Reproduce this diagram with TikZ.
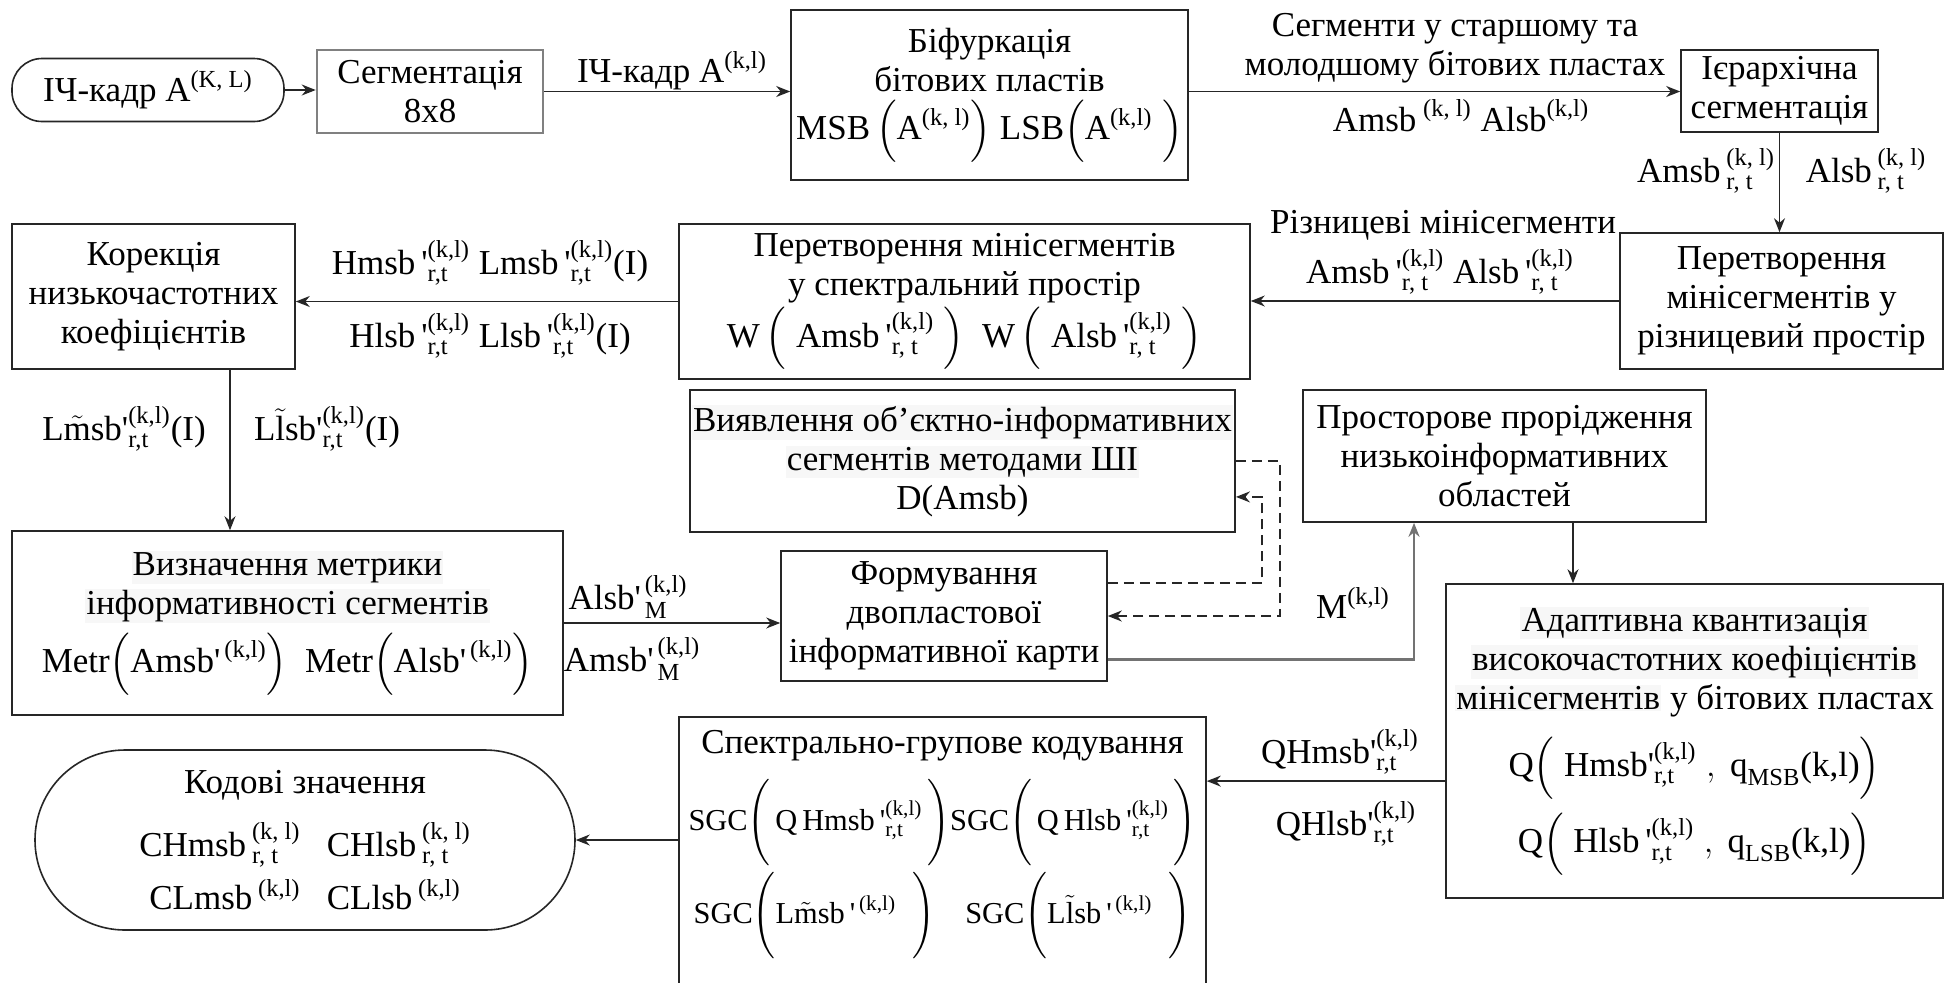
\documentclass[tikz,border=0pt]{standalone}
\usepackage{fontspec}
\setmainfont{Liberation Serif}
\usepackage{amsmath}
\usetikzlibrary{arrows.meta,calc}
\newcommand{\rt}[1]{\text{#1}}
\newcommand{\apos}{\textquotesingle}
\newcommand{\tallst}{\vrule height 20pt depth 18pt width 0pt}
\newcommand{\hlt}[1]{{\setlength{\fboxsep}{0.6pt}\colorbox{black!3}{#1}}}
\begin{document}
\begin{tikzpicture}[x=0.5pt,y=-0.5pt,
  font=\fontsize{17.5}{19.5}\selectfont,
  box/.style={draw=black!85, line width=0.8pt, align=center, inner sep=1pt},
  arr/.style={-{Stealth[length=7pt,width=5.5pt]}, line width=0.7pt, draw=black!85},
  dsh/.style={arr, dash pattern=on 5pt off 3pt, line width=0.9pt},
  lbl/.style={align=center, inner sep=0pt}]
\fill[white] (0,0) rectangle (1950,982);
\useasboundingbox (0,0) rectangle (1950,982);

% ---------- boxes ----------
\node[box, rounded corners=15pt, minimum width=136pt, minimum height=31.5pt] (start) at (148,90)
  {ІЧ-кадр $\rt{A}^{\rt{(K, L)}}$};
\node[box, draw=black!50, line width=1.3pt, minimum width=113pt, minimum height=41.5pt] (seg) at (430,91.5)
  {Сегментація\\8x8};
\node[box, minimum width=198.5pt, minimum height=85pt] (bif) at (989.5,95)
  {Біфуркація\\бітових пластів\\[3pt]MSB\,$\Bigl(\rt{A}^{\rt{(k, l)}}\Bigr)$ LSB$\Bigl(\rt{A}^{\rt{(k,l)}}\;\Bigr)$};
\node[box, minimum width=98.5pt, minimum height=41pt] (hier) at (1779.5,91)
  {Ієрархічна\\сегментація};
\node[box, minimum width=161.5pt, minimum height=68pt] (rizn) at (1781.5,301)
  {Перетворення\\мінісегментів у\\різницевий простір};
\node[box, minimum width=285.5pt, minimum height=77.5pt] (spec) at (964.5,301.5)
  {Перетворення мінісегментів\\у спектральний простір\\[1pt]
   W\,$\Bigl(\;\rt{Amsb\,\apos}^{\rt{(k,l)}}_{\rt{r, t}}\;\Bigr)$\ \ W\,$\Bigl(\;\rt{Alsb\,\apos}^{\rt{(k,l)}}_{\rt{r, t}}\;\Bigr)$};
\node[box, minimum width=141.5pt, minimum height=72.5pt] (kor) at (153.5,296.5)
  {Корекція\\низькочастотних\\коефіцієнтів};
\node[box, minimum width=268.5pt, minimum height=71pt] (vyyav) at (962.5,461)
  {\hlt{Виявлення об'єктно-інформативних}\\\hlt{сегментів методами ШІ}\\D(Amsb)};
\node[box, minimum width=201.5pt, minimum height=66pt] (prost) at (1504.5,456)
  {Просторове прорідження\\низькоінформативних\\областей};
\node[box, minimum width=275.5pt, minimum height=92pt] (vyzn) at (287.5,623)
  {\hlt{Визначення метрики}\\\hlt{інформативності сегментів}\\[4pt]
   Metr$\Bigl(\rt{Amsb\apos}^{\,\rt{(k,l)}}\Bigr)$\ \ Metr$\Bigl(\rt{Alsb\apos}^{\,\rt{(k,l)}}\Bigr)$};
\node[box, minimum width=163pt, minimum height=65pt] (form) at (944,616)
  {Формування\\двопластової\\інформативної карти};
\node[box, minimum width=248.5pt, minimum height=157pt] (adapt) at (1694.5,741)
  {\hlt{Адаптивна квантизація}\\\hlt{високочастотних коефіцієнтів}\\\hlt{мінісегментів} у бітових пластах\\[9pt]
   Q$\Bigl(\;\rt{Hmsb\apos}^{\rt{(k,l)}}_{\rt{r,t}}\;,\ \rt{q}_{\rt{MSB}}\rt{(k,l)}\Bigr)$\\[6pt]
   Q$\Bigl(\;\rt{Hlsb\,\apos}^{\rt{(k,l)}}_{\rt{r,t}}\;,\ \rt{q}_{\rt{LSB}}\rt{(k,l)}\Bigr)$};
\node[box, minimum width=263.5pt, minimum height=140pt] (sgc) at (942.5,857) {};
\node[lbl] (sgct) at (942.5,746) {Спектрально-групове кодування};
\node[lbl, font=\fontsize{15.2}{18}\selectfont] (sgc1) at (942.5,823)
  {SGC$\left(\,\rt{Q\,Hmsb\,\apos}^{\rt{(k,l)}}_{\rt{r,t}}\,\tallst\right)$SGC$\left(\,\rt{Q\,Hlsb\,\apos}^{\rt{(k,l)}}_{\rt{r,t}}\,\tallst\right)$};
\node[lbl, font=\fontsize{15.2}{18}\selectfont] (sgc2) at (942.5,916)
  {SGC$\left(\rt{L}\tilde{\rt{m}}\rt{sb\,\apos}^{\,\rt{(k,l)}}\;\;\tallst\right)$\quad SGC$\left(\rt{L}\tilde{\rt{l}}\rt{sb\,\apos}^{\,\rt{(k,l)}}\;\;\tallst\right)$};
\node[box, rounded corners=45pt, minimum width=270pt, minimum height=90pt] (kod) at (305,840)
  {Кодові значення\\[10pt]
   $\rt{CHmsb}\,^{\rt{(k, l)}}_{\rt{r, t}}$\ \ \ $\rt{CHlsb}\,^{\rt{(k, l)}}_{\rt{r, t}}$\\[5pt]
   $\rt{CLmsb}\,^{\rt{(k,l)}}$\ \ \ $\rt{CLlsb}\,^{\rt{(k,l)}}$};

% ---------- labels ----------
\node[lbl] (l1) at (672,71) {ІЧ-кадр $\rt{A}^{\rt{(k,l)}}$};
\node[lbl] (l2) at (1455,48) {Сегменти у старшому та\\молодшому бітових пластах};
\node[lbl] (l3) at (1461,116) {$\rt{Amsb}^{\;\rt{(k, l)}}\ \rt{Alsb}^{\rt{(k,l)}}$};
\node[lbl] (l4) at (1706,171) {$\rt{Amsb}\,^{\rt{(k, l)}}_{\rt{r, t}}$};
\node[lbl] (l5) at (1866,171) {$\rt{Alsb}\,^{\rt{(k, l)}}_{\rt{r, t}}$};
\node[lbl] (l6) at (1443,225) {Різницеві мінісегменти};
\node[lbl] (l7) at (1440,272) {$\rt{Amsb\,\apos}^{\rt{(k,l)}}_{\rt{r, t}}\ \rt{Alsb\,\apos}^{\rt{(k,l)}}_{\rt{r, t}}$};
\node[lbl] (l8) at (490,263) {$\rt{Hmsb\,\apos}^{\rt{(k,l)}}_{\rt{r,t}}\ \rt{Lmsb\,\apos}^{\rt{(k,l)}}_{\rt{r,t}}\rt{(I)}$};
\node[lbl] (l9) at (490,336) {$\rt{Hlsb\,\apos}^{\rt{(k,l)}}_{\rt{r,t}}\ \rt{Llsb\,\apos}^{\rt{(k,l)}}_{\rt{r,t}}\rt{(I)}$};
\node[lbl] (l10) at (124,429) {$\rt{L}\tilde{\rt{m}}\rt{sb\apos}^{\rt{(k,l)}}_{\rt{r,t}}\rt{(I)}$};
\node[lbl] (l11) at (327,429) {$\rt{L}\tilde{\rt{l}}\rt{sb\apos}^{\rt{(k,l)}}_{\rt{r,t}}\rt{(I)}$};
\node[lbl] (l12) at (628,597) {$\rt{Alsb\apos}^{\,\rt{(k,l)}}_{\,\rt{M}}$};
\node[lbl] (l13) at (632,659) {$\rt{Amsb\apos}^{\,\rt{(k,l)}}_{\,\rt{M}}$};
\node[lbl] (l14) at (1353,603) {$\rt{M}^{\rt{(k,l)}}$};
\node[lbl] (l15) at (1340,752) {$\rt{QHmsb\apos}^{\rt{(k,l)}}_{\rt{r,t}}$};
\node[lbl] (l16) at (1346,824) {$\rt{QHlsb\apos}^{\rt{(k,l)}}_{\rt{r,t}}$};

% ---------- helper coordinates ----------
\coordinate (kx) at (230,0);
\coordinate (dx1) at (1262,0);
\coordinate (dx2) at (1280,0);
\coordinate (mx) at (1414,0);
\coordinate (px) at (1573,0);
\coordinate (f25) at ($(form.north east)!0.25!(form.south east)$);
\coordinate (f83) at ($(form.north east)!0.83!(form.south east)$);
\coordinate (v75) at ($(vyyav.north east)!0.75!(vyyav.south east)$);
\coordinate (a62) at ($(adapt.north west)!0.627!(adapt.south west)$);

% ---------- connectors ----------
\draw[arr] (start.east) -- (start.east -| seg.west);
\draw[arr] (seg.east) -- (seg.east -| bif.west);
\draw[arr] (bif.east |- seg.east) -- (hier.west |- seg.east);
\draw[arr] (hier.south) -- (hier.south |- rizn.north);
\draw[arr] (rizn.west) -- (rizn.west -| spec.east);
\draw[arr] (spec.west) -- (spec.west -| kor.east);
\draw[arr] (kx |- kor.south) -- (kx |- vyzn.north);
\draw[arr] (vyzn.east) -- (vyzn.east -| form.west);
\draw[dsh] (f25) -| (dx1 |- v75) -- (v75);
\draw[dsh] (vyyav.east) -| (dx2 |- form.east) -- (form.east);
\draw[arr, draw=black!55, line width=1.2pt] (f83) -| (mx |- prost.south);
\draw[arr] (px |- prost.south) -- (px |- adapt.north);
\draw[arr] (a62) -- (a62 -| sgc.east);
\draw[arr] (sgc.west |- kod.east) -- (kod.east);
\end{tikzpicture}
\end{document}
